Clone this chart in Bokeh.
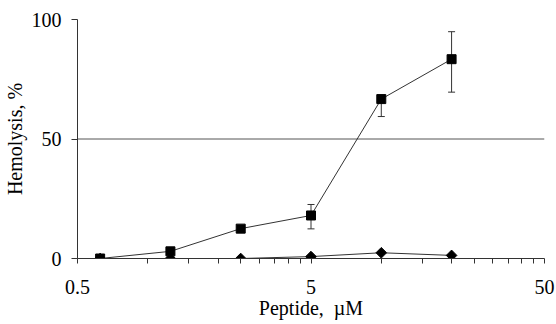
import math
from bokeh.plotting import figure
from bokeh.models import Range1d, FixedTicker, Span, Whisker, TeeHead, ColumnDataSource
from bokeh.embed import file_html
from bokeh.resources import INLINE

# ---- data ----
peptide_um = [0.625, 1.25, 2.5, 5, 10, 20]
hemolysis_sq = [0, 3, 12.5, 18, 66.7, 83.4]
hemolysis_di = [0, 0, 0, 0.8, 2.4, 1.3]
# error bars of the square series (only where visible)
err_x = [5, 10, 20]
err_upper = [22.6, 66.7, 94.9]
err_lower = [12.4, 59.4, 69.6]

x_major = [0.5, 5, 50]
x_minor = [1, 1.5, 2, 2.5, 3, 3.5, 4, 4.5, 10, 15, 20, 25, 30, 35, 40, 45]
y_major = [0, 50, 100]
threshold = 50

FONT = "Liberation Serif"
INK = "#333333"

p = figure(width=556, height=324, x_axis_type="log",
           x_range=Range1d(0.5, 50), y_range=Range1d(0, 100),
           output_backend="svg", toolbar_location=None,
           min_border_left=77, min_border_right=12,
           min_border_top=19, min_border_bottom=66)
p.outline_line_color = None
p.xgrid.visible = False
p.ygrid.visible = False
p.background_fill_color = "white"

# x axis
xa = p.xaxis[0]
xa.ticker = FixedTicker(ticks=x_major, minor_ticks=x_minor)
xa.major_label_overrides = {0.5: "0.5", 5: "5", 50: "50"}
xa.major_tick_in = 0
xa.major_tick_out = 5
xa.minor_tick_in = 0
xa.minor_tick_out = 5
xa.axis_line_color = INK
xa.major_tick_line_color = INK
xa.minor_tick_line_color = INK
xa.major_label_text_font = FONT
xa.major_label_text_font_size = "20px"
xa.major_label_text_color = "black"
xa.major_label_standoff = 16
xa.axis_label = "Peptide,\u00a0 \u00b5M"
xa.axis_label_text_font = FONT
xa.axis_label_text_font_size = "20px"
xa.axis_label_text_font_style = "normal"
xa.axis_label_text_color = "black"
xa.axis_label_standoff = 0

# y axis
ya = p.yaxis[0]
ya.ticker = FixedTicker(ticks=y_major, minor_ticks=[])
ya.major_tick_in = 0
ya.major_tick_out = 6
ya.minor_tick_line_color = None
ya.axis_line_color = INK
ya.major_tick_line_color = INK
ya.major_label_text_font = FONT
ya.major_label_text_font_size = "20px"
ya.major_label_text_color = "black"
ya.major_label_standoff = 10
ya.axis_label = "Hemolysis, %"
ya.axis_label_text_font = FONT
ya.axis_label_text_font_size = "20px"
ya.axis_label_text_font_style = "normal"
ya.axis_label_text_color = "black"
ya.axis_label_standoff = 3

# threshold line
p.add_layout(Span(location=threshold, dimension="width", line_color="#555555",
                  line_width=1, level="underlay"))

# series lines
p.line(peptide_um, hemolysis_sq, line_color=INK, line_width=1)
p.line(peptide_um, hemolysis_di, line_color=INK, line_width=1)

# error bars
esrc = ColumnDataSource(dict(x=err_x, upper=err_upper, lower=err_lower))
p.add_layout(Whisker(source=esrc, base="x", upper="upper", lower="lower",
                     line_color=INK, line_width=1,
                     upper_head=TeeHead(size=7, line_color=INK, line_width=1),
                     lower_head=TeeHead(size=7, line_color=INK, line_width=1)))

# markers
p.scatter(peptide_um, hemolysis_sq, marker="square", size=9, color="black")
p.scatter(peptide_um, hemolysis_di, marker="square", angle=math.pi / 4,
          size=7.5, color="black")

open("out.html", "w").write(file_html(p, INLINE))
